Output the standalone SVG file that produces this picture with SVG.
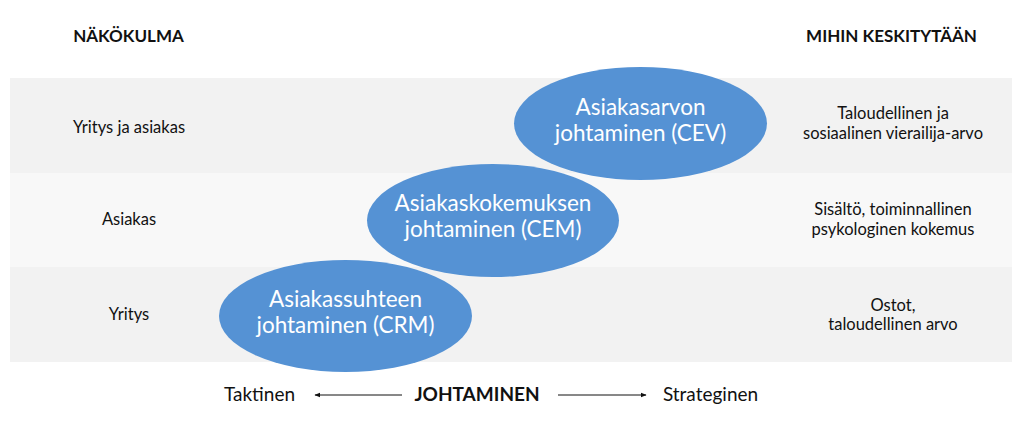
<svg xmlns="http://www.w3.org/2000/svg" width="1024" height="432" viewBox="0 0 1024 432">
<defs>
<style>
text{font-family:Lato,"Open Sans","Liberation Sans",sans-serif;fill:#111;text-anchor:middle}
.hd{font-size:17px;font-weight:bold}
.lb{font-size:16.5px}
.el{fill:#5592d4}
.et{font-size:22.5px;fill:#fff}
.ax{font-size:19px}
.axb{font-size:19px;font-weight:bold}
.ar{stroke:#111;stroke-width:1;fill:none}
</style>
<marker id="ah" viewBox="0 0 10 10" refX="9" refY="5" markerWidth="6" markerHeight="6" orient="auto-start-reverse" markerUnits="userSpaceOnUse">
<path d="M0,1 L10,5 L0,9 z" fill="#111"/>
</marker>
</defs>
<rect width="1024" height="432" fill="#fff"/>
<g id="bands">
<rect x="10" y="78" width="1002" height="95" fill="#f2f2f2"/>
<rect x="10" y="173" width="1002" height="94" fill="#f8f8f8"/>
<rect x="10" y="267" width="1002" height="95" fill="#f2f2f2"/>
</g>
<g id="headers">
<text class="hd" x="128.5" y="42">NÄKÖKULMA</text>
<text class="hd" x="891.5" y="42">MIHIN KESKITYTÄÄN</text>
</g>
<g id="row-labels">
<text class="lb" x="129" y="133">Yritys ja asiakas</text>
<text class="lb" x="129" y="225">Asiakas</text>
<text class="lb" x="129" y="320">Yritys</text>
</g>
<g id="focus-labels">
<text class="lb" x="893" y="119">Taloudellinen ja</text>
<text class="lb" x="893" y="139">sosiaalinen vierailija-arvo</text>
<text class="lb" x="893" y="215">Sisältö, toiminnallinen</text>
<text class="lb" x="893" y="235">psykologinen kokemus</text>
<text class="lb" x="893" y="311">Ostot,</text>
<text class="lb" x="893" y="330">taloudellinen arvo</text>
</g>
<g id="node-crm">
<ellipse class="el" cx="345.5" cy="316" rx="126.5" ry="56"/>
<text class="et" x="345.5" y="306.5">Asiakassuhteen</text>
<text class="et" x="345.5" y="332.5">johtaminen (CRM)</text>
</g>
<g id="node-cem">
<ellipse class="el" cx="493" cy="220.5" rx="126" ry="56.5"/>
<text class="et" x="493" y="211">Asiakaskokemuksen</text>
<text class="et" x="493" y="237">johtaminen (CEM)</text>
</g>
<g id="node-cev">
<ellipse class="el" cx="640.5" cy="123.5" rx="126.5" ry="56.5"/>
<text class="et" x="640.5" y="115">Asiakasarvon</text>
<text class="et" x="640.5" y="141">johtaminen (CEV)</text>
</g>
<g id="axis">
<text class="ax" x="259.5" y="401">Taktinen</text>
<text class="axb" x="477" y="401">JOHTAMINEN</text>
<text class="ax" x="710.5" y="401">Strateginen</text>
</g>
<g id="connectors">
<line class="ar" x1="402" y1="395" x2="315" y2="395" marker-end="url(#ah)"/>
<line class="ar" x1="558" y1="395" x2="646" y2="395" marker-end="url(#ah)"/>
</g>
</svg>
